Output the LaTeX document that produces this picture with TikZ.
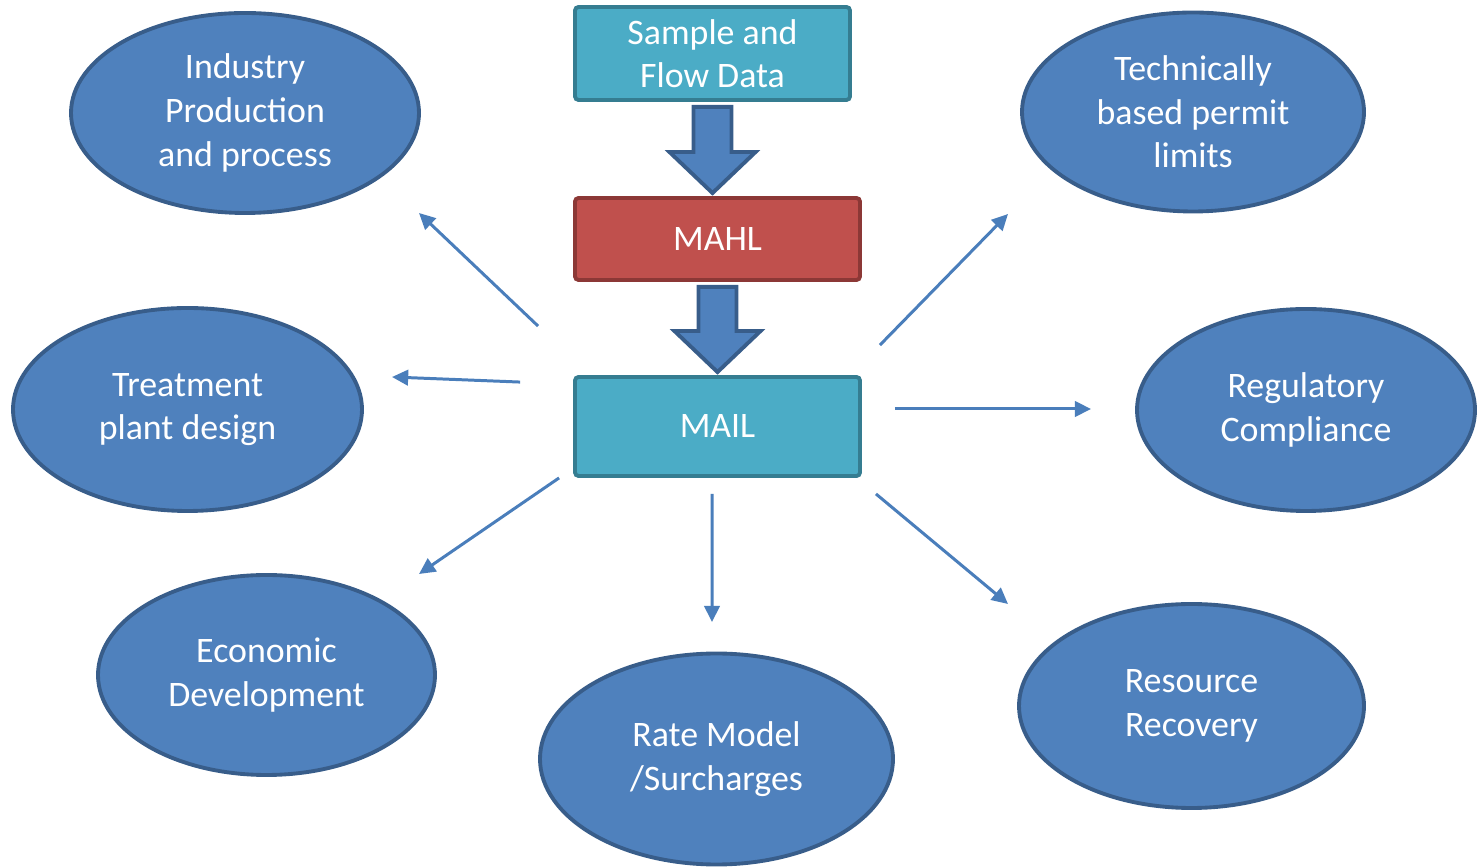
\documentclass[tikz,border=0pt]{standalone}
\usepackage{fontspec}
\setmainfont{Carlito}
\usetikzlibrary{calc,shapes.geometric,arrows.meta}
\definecolor{ovalfill}{HTML}{4F81BD}
\definecolor{ovalline}{HTML}{385D8A}
\definecolor{tealfill}{HTML}{4BACC6}
\definecolor{tealline}{HTML}{357D91}
\definecolor{redfill}{HTML}{C0504D}
\definecolor{redline}{HTML}{8C3836}
\definecolor{spokeline}{HTML}{4A7EBB}
\tikzset{
	oval/.style={ellipse, draw=ovalline, fill=ovalfill, line width=1.1pt, inner sep=0pt, text=white, align=center, font=\fontsize{10.2}{12.4}\selectfont},
	databox/.style={draw=tealline, fill=tealfill, line width=1.1pt, rounded corners=1pt, inner sep=0pt, text=white, align=center, font=\fontsize{10.2}{12.4}\selectfont},
	labbox/.style={databox, draw=redline, fill=redfill},
	blockarrow/.style={draw=ovalline, fill=ovalfill, line width=1.1pt, line join=miter},
	spoke/.style={draw=spokeline, line width=0.85pt, -{Triangle[length=4.6pt,width=4.4pt]}}
}
% fat down arrow from the bottom of #1 to the top of #2
\newcommand{\fatarrow}[2]{\draw[blockarrow] let \p1=($(#1.south)+(0,-0.05)$), \p2=(#2.north) in
	(\x1-0.19cm,\y1) -- (\x1+0.19cm,\y1) -- (\x1+0.19cm,\y2+0.44cm) -- (\x1+0.43cm,\y2+0.44cm)
	-- (\x1,\y2+0.03cm) -- (\x1-0.43cm,\y2+0.44cm) -- (\x1-0.19cm,\y2+0.44cm) -- cycle;}

\begin{document}
\begin{tikzpicture}
		%%%%% START %%%%%
		\useasboundingbox (0, 0) rectangle (14.78, -8.67);
		
		\node[databox, minimum width=2.75cm, minimum height=0.93cm] (sample) at (7.125, -0.535) {Sample and\\Flow Data};
		\node[labbox, minimum width=2.85cm, minimum height=0.82cm] (mahl) at (7.175, -2.39) {MAHL};
		\node[databox, minimum width=2.85cm, minimum height=0.99cm] (mail) at (7.175, -4.265) {MAIL};
		
		\fatarrow{sample}{mahl}
		\fatarrow{mahl}{mail}
		
		\node[oval, minimum width=3.48cm, minimum height=2.0cm] (industry) at (2.45, -1.13) {Industry\\Production\\and process};
		\node[oval, minimum width=3.42cm, minimum height=1.99cm] (permit) at (11.93, -1.12) {Technically\\based permit\\limits};
		\node[oval, minimum width=3.49cm, minimum height=2.03cm] (treatment) at (1.875, -4.095) {Treatment\\plant design};
		\node[oval, minimum width=3.38cm, minimum height=2.02cm] (regulatory) at (13.06, -4.10) {Regulatory\\Compliance};
		\node[oval, minimum width=3.37cm, minimum height=2.0cm] (economic) at (2.665, -6.75) {Economic\\Development};
		\node[oval, minimum width=3.53cm, minimum height=2.11cm] (rate) at (7.165, -7.59) {Rate Model\\/Surcharges};
		\node[oval, minimum width=3.45cm, minimum height=2.04cm] (resource) at (11.915, -7.06) {Resource\\Recovery};
		
		% free arrow tips near the ovals
		\coordinate (industry-tip) at (4.19, -2.13);
		\coordinate (treatment-tip) at (3.92, -3.77);
		\coordinate (economic-tip) at (4.19, -5.74);
		\coordinate (rate-tip) at (7.12, -6.22);
		\coordinate (resource-tip) at (10.08, -6.04);
		\coordinate (regulatory-tip) at (10.91, -4.09);
		\coordinate (permit-tip) at (10.08, -2.14);
		
		\draw[spoke] ($(mail.north west)+(-0.35, 0.49)$) -- (industry-tip);
		\draw[spoke] ($(mail.north west)+(-0.53, -0.07)$) -- (treatment-tip);
		\draw[spoke] ($(mail.south west)+(-0.14, 0)$) -- (economic-tip);
		\draw[spoke] ($(mail.south)+(-0.055, -0.16)$) -- (rate-tip);
		\draw[spoke] ($(mail.south east)+(0.14, -0.16)$) -- (resource-tip);
		\draw[spoke] ($(mail.east)+(0.33, 0.175)$) -- (regulatory-tip);
		\draw[spoke] ($(mail.north east)+(0.18, 0.30)$) -- (permit-tip);
		
		%%%%% END %%%%%
	\end{tikzpicture}
\end{document}
